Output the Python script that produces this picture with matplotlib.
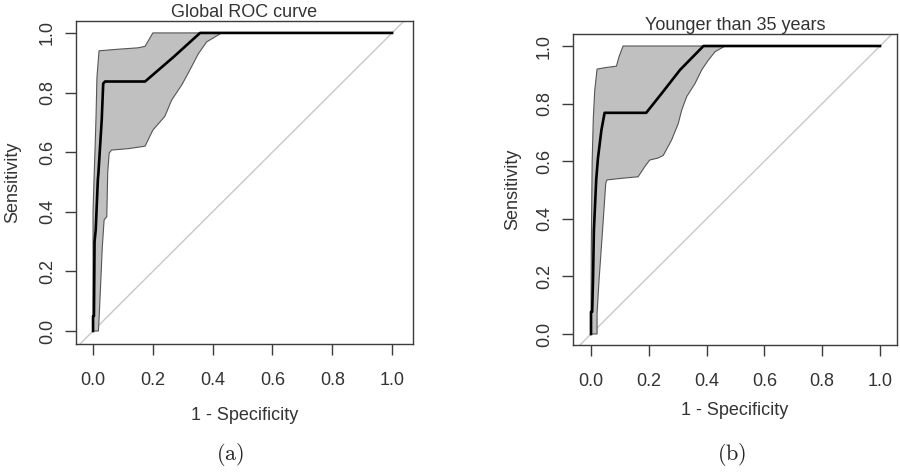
import numpy as np
import matplotlib.pyplot as plt

plt.rcParams['font.family'] = ['Liberation Sans', 'DejaVu Sans']
plt.rcParams['mathtext.fontset'] = 'cm'

# panel (a): global ROC curve
a_roc_x = [0, 0, 0.003, 0.005, 0.009, 0.016, 0.018, 0.029, 0.034, 0.040, 0.174, 0.27, 0.358, 1.0]
a_roc_y = [0, 0.05, 0.05, 0.30, 0.34, 0.507, 0.53, 0.708, 0.83, 0.837, 0.837, 0.92, 1.0, 1.0]
a_hi_x = [0, 0, 0.003, 0.007, 0.010, 0.013, 0.020, 0.08, 0.15, 0.174, 0.20, 1.0]
a_hi_y = [0, 0.40, 0.50, 0.62, 0.72, 0.85, 0.94, 0.945, 0.95, 0.955, 1.0, 1.0]
a_lo_x = [0.018, 0.022, 0.026, 0.031, 0.037, 0.046, 0.049, 0.054, 0.062, 0.12, 0.174,
          0.20, 0.24, 0.263, 0.297, 0.324, 0.352, 0.38, 0.43, 1.0]
a_lo_y = [0.0, 0.08, 0.17, 0.283, 0.372, 0.384, 0.53, 0.597, 0.607, 0.612, 0.62,
          0.674, 0.72, 0.775, 0.826, 0.876, 0.93, 0.97, 1.0, 1.0]

# panel (b): younger than 35 years
b_roc_x = [0, 0, 0.004, 0.007, 0.010, 0.018, 0.024, 0.036, 0.047, 0.191, 0.245, 0.308, 0.389, 1.0]
b_roc_y = [0, 0.077, 0.077, 0.19, 0.36, 0.535, 0.61, 0.708, 0.768, 0.768, 0.836, 0.917, 1.0, 1.0]
b_hi_x = [0, 0.001, 0.004, 0.008, 0.013, 0.021, 0.05, 0.088, 0.097, 0.111, 1.0]
b_hi_y = [0, 0.3, 0.60, 0.75, 0.847, 0.92, 0.925, 0.93, 0.963, 1.0, 1.0]
b_lo_x = [0.021, 0.021, 0.028, 0.036, 0.044, 0.051, 0.055, 0.10, 0.163, 0.186, 0.203, 0.232,
          0.25, 0.279, 0.302, 0.314, 0.331, 0.36, 0.383, 0.406, 0.429, 0.464, 1.0]
b_lo_y = [0.0, 0.073, 0.19, 0.303, 0.419, 0.523, 0.535, 0.54, 0.546, 0.581, 0.604, 0.611,
          0.62, 0.674, 0.731, 0.778, 0.824, 0.87, 0.917, 0.951, 0.98, 1.0, 1.0]

ticks = [0.0, 0.2, 0.4, 0.6, 0.8, 1.0]
tick_labels = ['0.0', '0.2', '0.4', '0.6', '0.8', '1.0']

txt = '#333333'
edge = '#3c3c3c'

fig = plt.figure(figsize=(9, 4.72), dpi=100)


def roc_panel(rect, xlim, ylim, title, rx, ry, hx, hy, lx, ly, xl_y):
    ax = fig.add_axes(rect)
    ax.axline((0, 0), (1, 1), color='#c8c8c8', lw=1.0, zorder=1)
    px = np.concatenate([hx, lx[::-1]])
    py = np.concatenate([hy, ly[::-1]])
    ax.fill(px, py, facecolor='#c0c0c0', edgecolor='#555555', lw=0.8, zorder=2)
    ax.plot(rx, ry, color='black', lw=1.9, zorder=3)
    ax.set_xlim(xlim)
    ax.set_ylim(ylim)
    ax.set_xticks(ticks, tick_labels)
    ax.set_yticks(ticks, tick_labels)
    ax.tick_params(axis='both', direction='out', length=8, width=1.0, color=edge,
                   labelsize=13, labelcolor=txt)
    ax.tick_params(axis='x', pad=12.5)
    ax.tick_params(axis='y', pad=6.5)
    for lab in ax.get_yticklabels():
        lab.set_rotation(90)
        lab.set_va('center')
    for s in ax.spines.values():
        s.set_color(edge)
        s.set_linewidth(1.0)
    ax.set_title(title, fontsize=13, color=txt, pad=0.5)
    ax.set_xlabel('1 - Specificity', fontsize=13, color=txt)
    ax.xaxis.label.set_va('center')
    ax.xaxis.set_label_coords(0.5, xl_y)
    ax.set_ylabel('Sensitivity', fontsize=13, color=txt)
    ax.yaxis.label.set_va('center')
    return ax


ax1 = roc_panel([76 / 900, 1 - 344 / 472, 337 / 900, 323 / 472], (-0.057, 1.070), (-0.0436, 1.040),
                'Global ROC curve', a_roc_x, a_roc_y, a_hi_x, a_hi_y, a_lo_x, a_lo_y, -0.22)
ax1.yaxis.set_label_coords(-0.187, 0.5)

ax2 = roc_panel([573 / 900, 1 - 345 / 472, 324 / 900, 311 / 472], (-0.0623, 1.0588), (-0.0382, 1.0417),
                'Younger than 35 years', b_roc_x, b_roc_y, b_hi_x, b_hi_y, b_lo_x, b_lo_y, -0.212)
ax2.yaxis.set_label_coords(-0.185, 0.5)

fig.text(230 / 900, 1 - 455 / 472, r'$\mathrm{(a)}$', fontsize=16, ha='center', va='center', color='#222222')
fig.text(732 / 900, 1 - 455 / 472, r'$\mathrm{(b)}$', fontsize=16, ha='center', va='center', color='#222222')

fig.savefig('out.png', dpi=100)
